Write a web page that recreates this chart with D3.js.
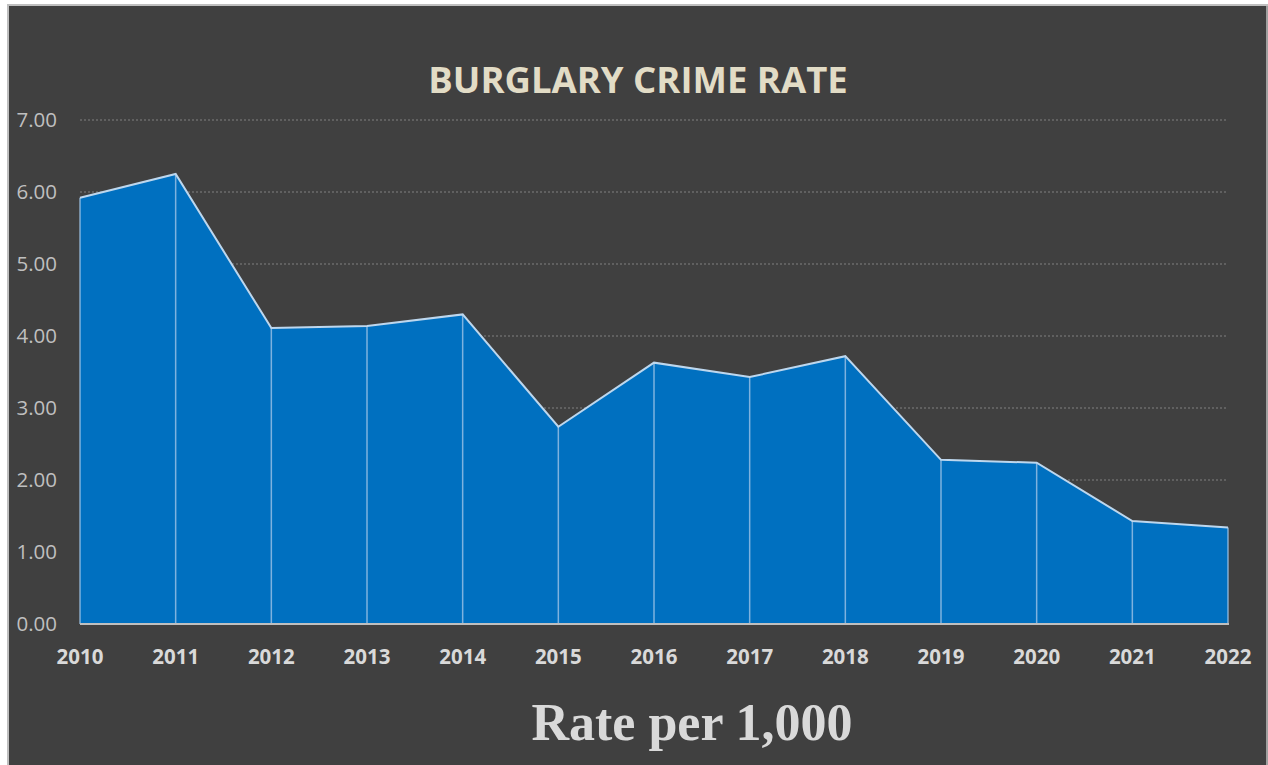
<!DOCTYPE html>
<html>
<head>
<meta charset="utf-8">
<script src="https://cdn.jsdelivr.net/npm/d3@7"></script>
<style>
  html, body { margin: 0; padding: 0; background: #ffffff; }
  svg { display: block; }
</style>
</head>
<body>
<svg id="chart" width="1268" height="765"></svg>
<script>
// Burglary rate per 1,000 residents, by year
const years = ["2010", "2011", "2012", "2013", "2014", "2015", "2016",
               "2017", "2018", "2019", "2020", "2021", "2022"];
const rates = [5.92, 6.25, 4.11, 4.14, 4.30, 2.74, 3.63, 3.43, 3.72, 2.28, 2.24, 1.43, 1.34];
const yTicks = [0, 1, 2, 3, 4, 5, 6, 7];

const titleText = "BURGLARY CRIME RATE";
const axisTitleText = "Rate per 1,000";

const svg = d3.select("#chart");
const W = 1268, H = 765;

// chart frame
svg.append("rect")
  .attr("x", 8).attr("y", 5)
  .attr("width", W - 8 + 1).attr("height", H)
  .attr("fill", "#404040")
  .attr("stroke", "#bfbfbf")
  .attr("stroke-width", 2);
svg.append("line")
  .attr("x1", 1267).attr("x2", 1267).attr("y1", 5).attr("y2", H)
  .attr("stroke", "#bfbfbf").attr("stroke-width", 1.5);

const plot = { left: 80, right: 1228, top: 120, bottom: 624 };

const x = d3.scalePoint()
  .domain(years)
  .range([plot.left, plot.right]);

const y = d3.scaleLinear()
  .domain([0, 7])
  .range([plot.bottom, plot.top]);

// horizontal gridlines
svg.append("g")
  .selectAll("line")
  .data(yTicks.filter(d => d > 0))
  .join("line")
  .attr("x1", plot.left)
  .attr("x2", plot.right - 2)
  .attr("y1", d => y(d))
  .attr("y2", d => y(d))
  .attr("stroke", "#6b6b6b")
  .attr("stroke-width", 1.5)
  .attr("stroke-dasharray", "2,2");

// y axis labels
svg.append("g")
  .selectAll("text")
  .data(yTicks)
  .join("text")
  .attr("x", 57)
  .attr("y", d => y(d))
  .attr("dy", "0.35em")
  .attr("text-anchor", "end")
  .attr("font-family", "'Open Sans', sans-serif")
  .attr("font-size", 20.5)
  .attr("fill", "#bfbfbf")
  .text(d => d3.format(".2f")(d));

const pts = years.map((yr, i) => ({ year: yr, value: rates[i] }));

// filled area
const area = d3.area()
  .x(d => x(d.year))
  .y0(y(0))
  .y1(d => y(d.value));

svg.append("path")
  .datum(pts)
  .attr("d", area)
  .attr("fill", "#0070c0");

// drop lines at each year
svg.append("g")
  .selectAll("line")
  .data(pts)
  .join("line")
  .attr("x1", d => x(d.year))
  .attr("x2", d => x(d.year))
  .attr("y1", d => y(d.value))
  .attr("y2", y(0))
  .attr("stroke", "#9dc3e6")
  .attr("stroke-opacity", 0.8)
  .attr("stroke-width", 1.5);

// top edge
const line = d3.line()
  .x(d => x(d.year))
  .y(d => y(d.value));

svg.append("path")
  .datum(pts)
  .attr("d", line)
  .attr("fill", "none")
  .attr("stroke", "#bdd7ee")
  .attr("stroke-width", 2)
  .attr("stroke-linejoin", "miter");

// baseline
svg.append("line")
  .attr("x1", plot.left)
  .attr("x2", plot.right + 1)
  .attr("y1", y(0))
  .attr("y2", y(0))
  .attr("stroke", "#bfbfbf")
  .attr("stroke-width", 2);

// x axis labels
svg.append("g")
  .selectAll("text")
  .data(years)
  .join("text")
  .attr("x", d => x(d))
  .attr("y", 664)
  .attr("text-anchor", "middle")
  .attr("font-family", "'Open Sans', sans-serif")
  .attr("font-weight", "bold")
  .attr("font-size", 20.5)
  .attr("fill", "#d9d9d9")
  .text(d => d);

// title
svg.append("text")
  .attr("x", 638)
  .attr("y", 93)
  .attr("text-anchor", "middle")
  .attr("font-family", "'Open Sans', sans-serif")
  .attr("font-weight", "bold")
  .attr("font-size", 36.5)
  .attr("fill", "#e2dcc6")
  .text(titleText);

// axis title
svg.append("text")
  .attr("x", 692)
  .attr("y", 740)
  .attr("text-anchor", "middle")
  .attr("font-family", "'Liberation Serif', 'DejaVu Serif', serif")
  .attr("font-weight", "bold")
  .attr("font-size", 52)
  .attr("fill", "#d9d9d9")
  .text(axisTitleText);
</script>
</body>
</html>
